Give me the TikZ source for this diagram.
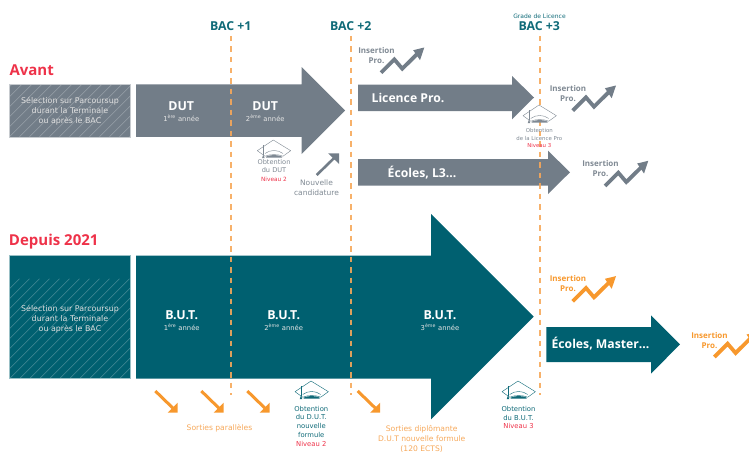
\documentclass[tikz,border=0pt]{standalone}
\usepackage{fontspec}
\setmainfont{Open Sans}
\newfontfamily\lightf{DejaVu Sans}
\usetikzlibrary{calc}
\definecolor{grisb}{HTML}{727D88}
\definecolor{grist}{HTML}{7F8993}
\definecolor{tealb}{HTML}{006070}
\definecolor{tealt}{HTML}{0F6A78}
\definecolor{rouge}{HTML}{EE3249}
\definecolor{orng}{HTML}{F7982D}
\definecolor{orngl}{HTML}{F6A85A}
\tikzset{
  x=1pt,y=-1pt,
  lbl/.style={inner sep=0pt,outer sep=0pt,align=center},
  title/.style={lbl,anchor=west,text=rouge,font=\fontsize{15}{16}\selectfont\bfseries},
  bac/.style={lbl,text=tealt,font=\fontsize{12.3}{13}\selectfont\bfseries},
  gradelbl/.style={lbl,text=tealt,font=\lightf\fontsize{6}{7}\selectfont},
  boxtxt/.style={lbl,text=white!88!black,font=\lightf\fontsize{7.9}{10.3}\selectfont},
  major/.style={lbl,text=white,font=\fontsize{12.4}{14}\selectfont\bfseries},
  yeartxt/.style={lbl,text=white!90!black,font=\lightf\fontsize{6.8}{9}\selectfont},
  arrowtxt/.style={lbl,text=white,font=\fontsize{12.2}{14}\selectfont\bfseries},
  ins/.style={lbl,font=\fontsize{8}{10}\selectfont\bfseries},
  obtsmall/.style={lbl,text=grist,font=\lightf\fontsize{5.4}{7.4}\selectfont},
  obtgrey/.style={lbl,text=grist,font=\lightf\fontsize{6.6}{8.8}\selectfont},
  obtteal/.style={lbl,text=tealt,font=\lightf\fontsize{6.8}{8.9}\selectfont},
  nouv/.style={lbl,text=grist,font=\lightf\fontsize{7.5}{10}\selectfont},
  sortie/.style={lbl,text=orngl,font=\lightf\fontsize{7.6}{10}\selectfont},
  dashline/.style={draw=orngl,line width=1.2pt,dash pattern=on 5.5pt off 5pt,opacity=.9},
  pics/zigzag/.style={code={
    \draw[#1,line width=3.8pt] (0,0)--(13.3,-13.3)--(21.3,-4)--(38,-20.5);
    \fill[#1] (43.3,-25.2)--(32.2,-22.5)--(39,-12.5)--cycle;
  }},
  pics/diagarrow/.style={code={
    \draw[#1,line width=3pt] (0,0)--(18,17.5);
    \fill[#1] (22.4,21.7)--(22.4,11.7)--(12.4,21.7)--cycle;
  }},
  pics/uparrow/.style={code={
    \draw[#1,line width=2.6pt] (0,0)--(18,-17.5);
    \fill[#1] (22.4,-21.7)--(22.4,-11)--(11.4,-21.7)--cycle;
  }},
  pics/gradcap/.style={code={
    \draw[#1,line width=.4pt,line join=round,fill=white]
      (-16.7,.7)--(-.7,-10)--(16.7,.7)--(9,6.2) .. controls (4,4) and (-4,4) .. (-9,6.2)--cycle;
    \draw[#1,line width=.4pt] (-9,3.5) .. controls (-4,-.5) and (4,-.5) .. (9,3.5);
    \fill[#1] (-8,6.6) .. controls (-3,4.5) and (3,4.5) .. (8,6.6)--(8,7.6)--(-8,7.6)--cycle;
    \draw[#1,line width=.9pt] (-10.7,-5)--(-10.7,5);
    \fill[#1] (-12,8.2)--(-10.7,4.5)--(-9.4,8.2)--cycle;
  }},
}
\newcommand{\hatchbox}[5]{%
  \fill[#5] (#1,#2) rectangle (#3,#4);
  \begin{scope}
    \clip (#1,#2) rectangle (#3,#4);
    \foreach \k in {0,10,...,270}{
      \draw[white,opacity=.28,line width=.5pt] ({#1+\k-100},#4)--++(100,-100);
    }
  \end{scope}
  \draw[white!60!#5,line width=.5pt] (#1,#2) rectangle (#3,#4);
}
\begin{document}
\begin{tikzpicture}
\useasboundingbox (0,0) rectangle (749,452);
\clip (0,0) rectangle (749,452);

% Avant
\hatchbox{9.5}{84.3}{130}{136.8}{grisb}
\fill[grisb] (136,84.3)--(301.5,84.3)--(301.5,67)--(345,110.5)--(301.5,154)--(301.5,136.8)--(136,136.8)--cycle;
\fill[grisb] (358,84.5)--(512,84.5)--(512,76)--(534,97.5)--(512,119.3)--(512,111)--(358,111)--cycle;
\fill[grisb] (358,159)--(548,159)--(548,150.7)--(570,172.3)--(548,194)--(548,185.7)--(358,185.7)--cycle;

% Depuis 2021
\hatchbox{9.5}{255.5}{130}{378.7}{tealb}
\fill[tealb] (136,255.5)--(431,255.5)--(431,214)--(533.7,316.7)--(431,419.3)--(431,378.7)--(136,378.7)--cycle;
\fill[tealb] (546.3,327)--(651,327)--(651,315.3)--(680,344.3)--(651,373.7)--(651,362)--(546.3,362)--cycle;

% dashed lines
\coordinate (d1a) at (231,36); \coordinate (d1b) at (231,395);
\coordinate (d2a) at (351,36); \coordinate (d2b) at (351,395);
\coordinate (d3a) at (540,36); \coordinate (d3b) at (540,395);
\draw[dashline] (d1a)--(d1b);
\draw[dashline] (d2a)--(d2b);
\draw[dashline] (d3a)--(d3b);

% headings
\node[title] (avant) at (9.5,70) {Avant};
\node[title] (depuis) at (9,242) {Depuis 2021};
\node[bac] (b1) at (230.7,25.7) {BAC +1};
\node[bac] (b2) at (350.7,25.7) {BAC +2};
\node[bac] (b3) at (539.3,25.7) {BAC +3};
\node[gradelbl] (grade) at (539.5,16) {Grade de Licence};

% Avant texts
\node[boxtxt] (sel1) at (70,111) {Sélection sur Parcoursup\\durant la Terminale\\ou après le BAC};
\node[major] (dut1) at (181.3,106.3) {DUT};
\node[yeartxt] (an1) at (181.3,118) {1\textsuperscript{ère} année};
\node[major] (dut2) at (265.3,106.3) {DUT};
\node[yeartxt] (an2) at (265.3,118) {2\textsuperscript{ème} année};
\node[arrowtxt] (lp) at (408,97.5) {Licence Pro.};
\node[arrowtxt] (el3) at (422,173) {Écoles, L3...};

% Depuis texts
\node[boxtxt] (sel2) at (70,319) {Sélection sur Parcoursup\\durant la Terminale\\ou après le BAC};
\node[major] (but1) at (181.7,314.7) {B.U.T.};
\node[yeartxt] (ban1) at (181.7,326.7) {1\textsuperscript{ère} année};
\node[major] (but2) at (283.7,314.7) {B.U.T.};
\node[yeartxt] (ban2) at (283.7,326.7) {2\textsuperscript{ème} année};
\node[major] (but3) at (440,314.7) {B.U.T.};
\node[yeartxt] (ban3) at (440,326.7) {3\textsuperscript{ème} année};
\node[arrowtxt] (em) at (600.5,344) {Écoles, Master...};

% insertion pro
\pic at (381,72.7) {zigzag=grisb};
\node[ins,text=grist] (i1) at (376.5,55.5) {Insertion\\Pro.};
\pic at (572.7,110.7) {zigzag=grisb};
\node[ins,text=grist] (i2) at (568,93.5) {Insertion\\Pro.};
\pic at (605,186) {zigzag=grisb};
\node[ins,text=grist] (i3) at (600.5,169) {Insertion\\Pro.};
\pic at (572.7,301.3) {zigzag=orng};
\node[ins,text=orng] (i4) at (568,284) {Insertion\\Pro.};
\pic at (714.3,357) {zigzag=orng};
\node[ins,text=orng] (i5) at (709.5,340.5) {Insertion\\Pro.};

% caps
\pic at (274,150) {gradcap=grist};
\pic at (539.7,115) {gradcap=grist};
\pic at (311.7,391) {gradcap=tealt};
\pic at (518.7,391) {gradcap=tealt};

\node[obtgrey] (o1) at (274,170.5) {Obtention\\du DUT\\\textcolor{rouge}{\fontsize{5.8}{7}\selectfont Niveau 2}};
\node[obtsmall] (o2) at (539.3,138) {Obtention\\de la Licence Pro\\\textcolor{rouge}{Niveau 3}};
\node[obtteal] (o3) at (311.3,426.3) {Obtention\\du D.U.T.\\nouvelle\\formule\\\textcolor{rouge}{Niveau 2}};
\node[obtteal] (o4) at (518.5,417.5) {Obtention\\du B.U.T.\\\textcolor{rouge}{Niveau 3}};

% nouvelle candidature
\pic at (316.7,175) {uparrow=grisb};
\node[nouv] (nc) at (316.5,188) {Nouvelle\\candidature};

% sorties
\pic at (155.3,391) {diagarrow=orng};
\pic at (201.3,391) {diagarrow=orng};
\pic at (247.3,391) {diagarrow=orng};
\pic at (357.7,391) {diagarrow=orng};
\node[sortie] (sp) at (219.5,428.7) {Sorties parallèles};
\node[sortie] (sd) at (421.7,439) {Sorties diplômante\\D.U.T nouvelle formule\\(120 ECTS)};
\end{tikzpicture}
\end{document}
